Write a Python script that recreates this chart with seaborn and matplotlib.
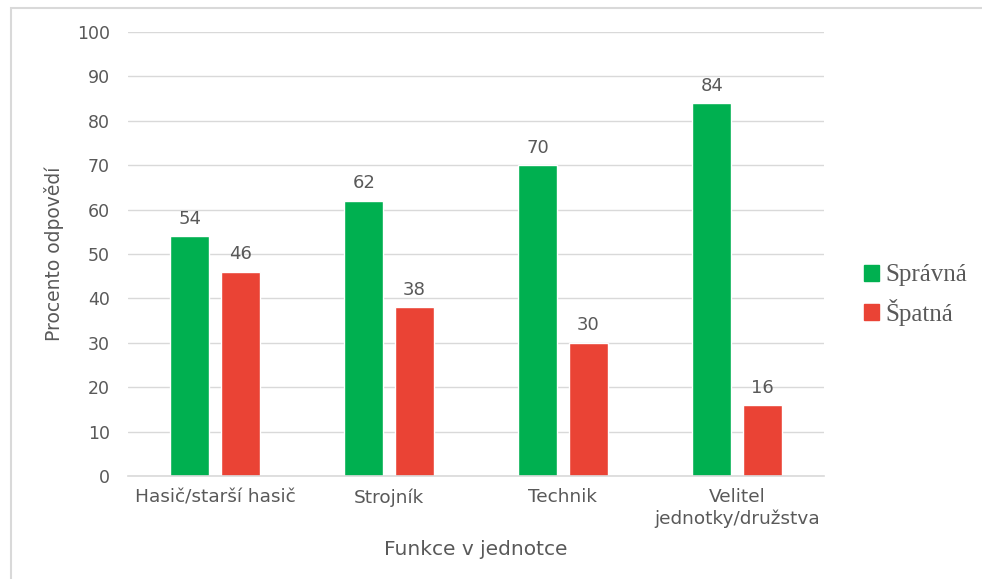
import matplotlib
matplotlib.use("Agg")
import matplotlib.pyplot as plt
import matplotlib.patches as mpatches
import seaborn as sns
import pandas as pd

categories = ["Hasič/starší hasič", "Strojník", "Technik", "Velitel\njednotky/družstva"]
series_names = ["Správná", "Špatná"]
spravna = [54, 62, 70, 84]
spatna = [46, 38, 30, 16]
colors = ["#00b050", "#ea4335"]
y_ticks = [0, 10, 20, 30, 40, 50, 60, 70, 80, 90, 100]

df = pd.DataFrame({
    "Funkce": categories * 2,
    "Odpověď": [series_names[0]] * len(categories) + [series_names[1]] * len(categories),
    "Procento": spravna + spatna,
})

sns.set_theme(style="white")
plt.rcParams["font.family"] = ["DejaVu Sans"]

fig = plt.figure(figsize=(9.82, 5.79), dpi=100)
ax = fig.add_axes([128 / 982, 1 - 476 / 579, 696 / 982, 444 / 579])

sns.barplot(data=df, x="Funkce", y="Procento", hue="Odpověď",
            palette=colors, width=0.575, gap=0.22, ax=ax, legend=False,
            saturation=1, errorbar=None)

text_color = "#595959"
for cont in ax.containers:
    ax.bar_label(cont, fmt="%d", padding=6, fontsize=13, color=text_color)

ax.set_ylim(0, 100)
ax.set_xlim(-0.5, 3.5)
ax.set_yticks(y_ticks)
ax.yaxis.grid(True, color="#d9d9d9", linewidth=1)
ax.set_axisbelow(True)
for side in ["top", "right", "left"]:
    ax.spines[side].set_visible(False)
ax.spines["bottom"].set_color("#d9d9d9")
ax.spines["bottom"].set_linewidth(1.2)
ax.tick_params(axis="y", length=0, pad=13, labelsize=12.5, labelcolor=text_color)
ax.tick_params(axis="x", length=0, pad=9, labelsize=13.3, labelcolor=text_color)

ax.set_xlabel("Funkce v jednotce", fontsize=14.5, color=text_color, labelpad=9)
ax.set_ylabel("Procento odpovědí", fontsize=13.5, color=text_color, labelpad=9)

handles = [mpatches.Patch(color=c, label=n) for c, n in zip(colors, series_names)]
leg = fig.legend(handles=handles, loc="center left", bbox_to_anchor=(841 / 982, 1 - 295 / 579),
                 frameon=False, prop={"family": "Liberation Serif", "size": 18},
                 handlelength=0.6, handleheight=0.6, handletextpad=0.28, labelspacing=0.48,
                 labelcolor=text_color)

# outer frame (top and left edges visible)
frame = mpatches.Rectangle((11 / 982, -0.1), 1.2, 1.1 - 7.5 / 579, transform=fig.transFigure,
                           fill=False, edgecolor="#d9d9d9", linewidth=1.5)
fig.patches.append(frame)

fig.savefig("out.png", dpi=100)
